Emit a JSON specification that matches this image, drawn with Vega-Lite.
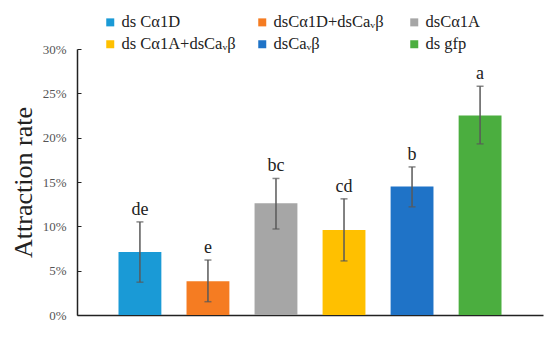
{
  "$schema": "https://vega.github.io/schema/vega-lite/v6.json",
  "width": 466,
  "height": 266,
  "autosize": {"type": "none"},
  "padding": {"left": 77, "top": 49, "right": 7, "bottom": 25},
  "background": "white",
  "config": {
    "view": {"stroke": null},
    "font": "Liberation Serif"
  },
  "data": {
    "values": [
      {"group": "ds Cα1D", "order": 1, "rate": 0.071, "lo": 0.037, "hi": 0.105, "letter": "de"},
      {"group": "dsCα1D+dsCaᵥβ", "order": 2, "rate": 0.038, "lo": 0.015, "hi": 0.062, "letter": "e"},
      {"group": "dsCα1A", "order": 3, "rate": 0.126, "lo": 0.097, "hi": 0.154, "letter": "bc"},
      {"group": "ds Cα1A+dsCaᵥβ", "order": 4, "rate": 0.096, "lo": 0.061, "hi": 0.131, "letter": "cd"},
      {"group": "dsCaᵥβ", "order": 5, "rate": 0.145, "lo": 0.122, "hi": 0.167, "letter": "b"},
      {"group": "ds gfp", "order": 6, "rate": 0.225, "lo": 0.193, "hi": 0.258, "letter": "a"}
    ]
  },
  "encoding": {
    "x": {
      "field": "group",
      "type": "nominal",
      "sort": {"field": "order"},
      "scale": {"paddingInner": 0.37, "paddingOuter": 0.61},
      "axis": {
        "title": null,
        "labels": false,
        "ticks": false,
        "domainColor": "#222222",
        "domainWidth": 1.5
      }
    }
  },
  "layer": [
    {
      "mark": {"type": "bar"},
      "encoding": {
        "y": {
          "field": "rate",
          "type": "quantitative",
          "scale": {"domain": [0, 0.3], "nice": false},
          "axis": {
            "title": "Attraction rate",
            "titleFont": "Liberation Serif",
            "titleFontSize": 26,
            "titleFontWeight": "normal",
            "titleColor": "#222222",
            "titlePadding": 6,
            "format": ".0%",
            "values": [0, 0.05, 0.1, 0.15, 0.2, 0.25, 0.3],
            "labelFont": "Liberation Serif",
            "labelFontSize": 13,
            "labelColor": "#555555",
            "grid": false,
            "tickSize": -4,
            "tickColor": "#222222",
            "labelPadding": 15,
            "domainColor": "#222222",
            "domainWidth": 1.5
          }
        },
        "color": {
          "field": "group",
          "type": "nominal",
          "sort": {"field": "order"},
          "scale": {
            "domain": ["ds Cα1D", "dsCα1D+dsCaᵥβ", "dsCα1A", "ds Cα1A+dsCaᵥβ", "dsCaᵥβ", "ds gfp"],
            "range": ["#1A9AD6", "#F57C22", "#A6A6A6", "#FFC000", "#1F73C7", "#4BAE3F"]
          },
          "legend": {
            "title": null,
            "orient": "none",
            "legendX": 25,
            "legendY": -35,
            "direction": "horizontal",
            "columns": 3,
            "gridAlign": "all",
            "columnPadding": 18,
            "rowPadding": 5,
            "padding": 0,
            "symbolType": "square",
            "symbolSize": 64,
            "symbolStrokeWidth": 0,
            "symbolOffset": 0,
            "labelOffset": 3,
            "labelFont": "Liberation Serif",
            "labelFontSize": 16.5,
            "labelColor": "#222222",
            "labelLimit": 200
          }
        }
      }
    },
    {
      "mark": {"type": "rule", "color": "#595959", "strokeWidth": 1.5},
      "encoding": {
        "y": {"field": "lo", "type": "quantitative"},
        "y2": {"field": "hi"}
      }
    },
    {
      "mark": {"type": "tick", "color": "#595959", "thickness": 1.5, "size": 7},
      "encoding": {
        "y": {"field": "hi", "type": "quantitative"}
      }
    },
    {
      "mark": {"type": "tick", "color": "#595959", "thickness": 1.5, "size": 7},
      "encoding": {
        "y": {"field": "lo", "type": "quantitative"}
      }
    },
    {
      "mark": {"type": "text", "baseline": "bottom", "dy": -3, "font": "Liberation Serif", "fontSize": 18, "color": "#222222"},
      "encoding": {
        "y": {"field": "hi", "type": "quantitative"},
        "text": {"field": "letter"}
      }
    }
  ]
}
